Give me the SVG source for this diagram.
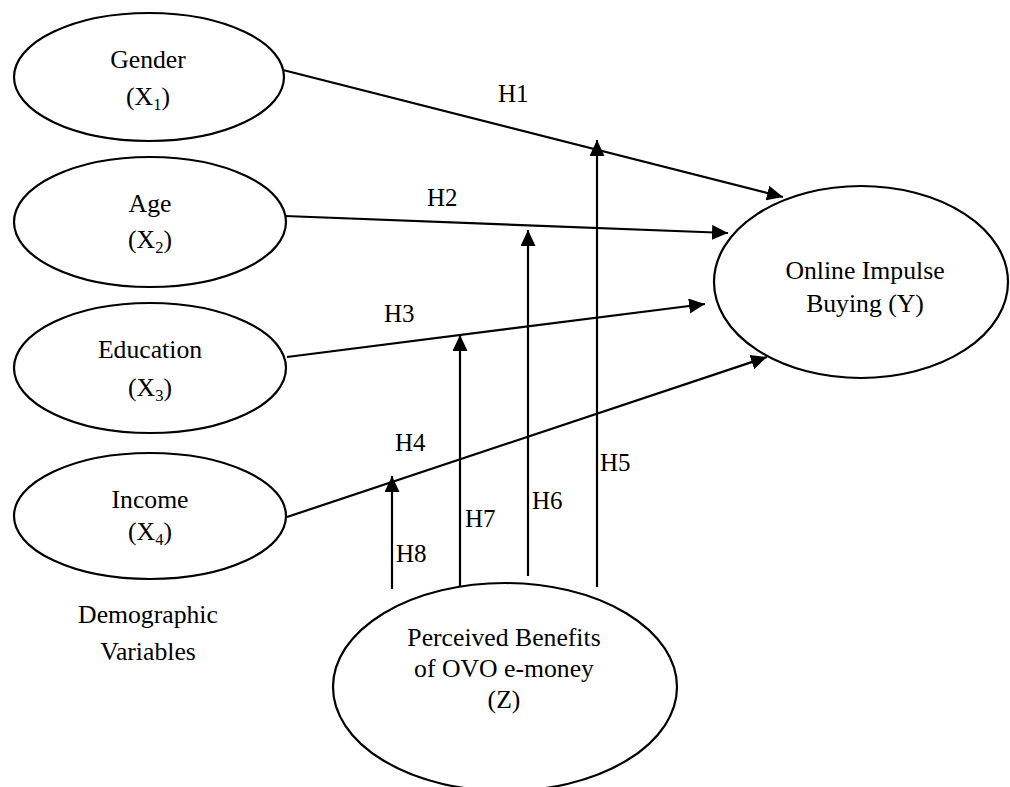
<svg xmlns="http://www.w3.org/2000/svg" width="1010" height="787" viewBox="0 0 1010 787" font-family="'Liberation Serif', 'Times New Roman', 'DejaVu Serif', serif">
<style>
.node{fill:#fff;stroke:#000;stroke-width:2.2}
text{font-family:'Liberation Serif','Times New Roman','DejaVu Serif',serif;font-size:25.7px;fill:#000}
.h{font-size:25px}
.c{text-anchor:middle}
.sub{font-size:16.5px}
.conn line{stroke:#000;stroke-width:2.2;marker-end:url(#ah)}
</style>
<defs>
<marker id="ah" markerUnits="userSpaceOnUse" markerWidth="17" markerHeight="16" refX="16" refY="7.5" orient="auto" viewBox="0 0 17 16">
<path d="M0,0 L16,7.5 L0,15 z" fill="#000"/>
</marker>
</defs>
<rect width="1010" height="787" fill="#fff"/>
<g id="gender">
<ellipse class="node" cx="149" cy="77" rx="135" ry="64"/>
<text class="c" x="148" y="68">Gender</text>
<text class="c" x="148" y="105">(X<tspan class="sub" dy="5">1</tspan><tspan dy="-5">)</tspan></text>
</g>
<g id="age">
<ellipse class="node" cx="150" cy="222" rx="136" ry="65"/>
<text class="c" x="150" y="212">Age</text>
<text class="c" x="150" y="248">(X<tspan class="sub" dy="5">2</tspan><tspan dy="-5">)</tspan></text>
</g>
<g id="education">
<ellipse class="node" cx="150" cy="368" rx="136" ry="65"/>
<text class="c" x="150" y="358">Education</text>
<text class="c" x="150" y="396">(X<tspan class="sub" dy="5">3</tspan><tspan dy="-5">)</tspan></text>
</g>
<g id="income">
<ellipse class="node" cx="150" cy="516" rx="136" ry="63"/>
<text class="c" x="150" y="508">Income</text>
<text class="c" x="150" y="540">(X<tspan class="sub" dy="5">4</tspan><tspan dy="-5">)</tspan></text>
</g>
<g id="demographic-label">
<text class="c" x="148" y="623">Demographic</text>
<text class="c" x="148" y="660">Variables</text>
</g>
<g id="impulse">
<ellipse class="node" cx="861" cy="282" rx="147" ry="96"/>
<text class="c" x="865" y="279">Online Impulse</text>
<text class="c" x="865" y="312">Buying (Y)</text>
</g>
<g id="benefits">
<ellipse class="node" cx="505" cy="687" rx="172" ry="104"/>
<text class="c" x="504" y="646">Perceived Benefits</text>
<text class="c" x="504" y="677">of OVO e-money</text>
<text class="c" x="504" y="708">(Z)</text>
</g>
<g id="connectors" class="conn">
<line x1="283" y1="70" x2="783" y2="197"/>
<line x1="285" y1="216" x2="728" y2="233"/>
<line x1="287" y1="357" x2="705" y2="304"/>
<line x1="287" y1="517" x2="767" y2="357"/>
<line x1="597" y1="587" x2="597" y2="140"/>
<line x1="528" y1="576" x2="528" y2="230"/>
<line x1="460" y1="587" x2="460" y2="335"/>
<line x1="392" y1="589" x2="392" y2="476"/>
</g>
<g id="labels">
<text class="h" x="498" y="102">H1</text>
<text class="h" x="427" y="206">H2</text>
<text class="h" x="384" y="322">H3</text>
<text class="h" x="395" y="451">H4</text>
<text class="h" x="600" y="471">H5</text>
<text class="h" x="532" y="509">H6</text>
<text class="h" x="465" y="527">H7</text>
<text class="h" x="396" y="562">H8</text>
</g>
</svg>
